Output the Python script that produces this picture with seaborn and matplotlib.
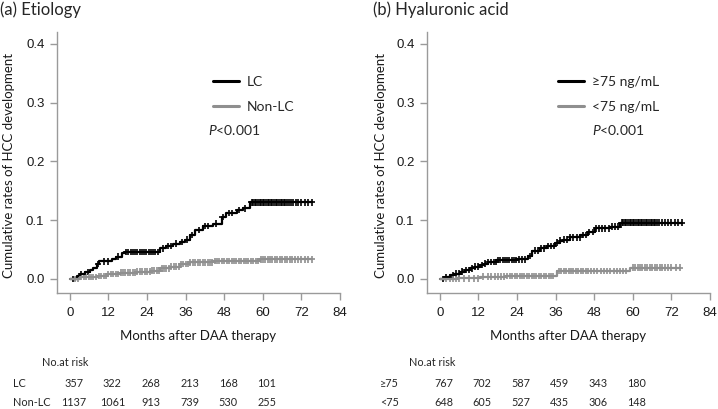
import matplotlib
matplotlib.use("Agg")
import matplotlib.pyplot as plt
from matplotlib.lines import Line2D
import numpy as np
import pandas as pd
import seaborn as sns

# (a) Etiology: step curves (months, cumulative rate)
lc_t = [0, 2.1, 3.1, 4.7, 6.2, 7.3, 8.3, 9.1, 13.0, 14.5, 16.1, 17.1, 28.0, 30.0, 32.1,
        34.2, 35.8, 37.3, 38.9, 41.5, 44.6, 47.2, 48.7, 51.9, 53.9, 56.0, 75.2]
lc_v = [0, 0.005, 0.0085, 0.012, 0.015, 0.019, 0.025, 0.030, 0.033, 0.038, 0.0435, 0.0457,
        0.052, 0.056, 0.060, 0.063, 0.067, 0.0745, 0.083, 0.090, 0.094, 0.1056, 0.1124,
        0.117, 0.120, 0.130, 0.130]
nlc_t = [0, 3.1, 8.8, 11.4, 15.6, 20.7, 24.9, 28.0, 31.1, 34.2, 37.3, 44.6, 59.1, 75.2]
nlc_v = [0, 0.003, 0.005, 0.0085, 0.0107, 0.0124, 0.014, 0.018, 0.021, 0.025, 0.028,
         0.0305, 0.033, 0.033]

lc_cens = [1, 3.5, 5.5, 8.8, 10.5, 12, 15, 17.5, 18.2, 18.9, 19.6, 20.3, 21, 21.7, 22.4,
           23.1, 23.8, 24.5, 25.2, 25.9, 26.6, 27.3, 29, 30.5, 31.5, 33, 34.8, 36.5, 38,
           40, 42, 43, 45.5, 47.5, 49.5, 50.5, 52.5, 54.5, 56.5, 57, 57.5, 58, 58.5, 59,
           59.5, 60, 60.5, 61, 61.5, 62, 62.5, 63, 63.5, 64, 64.5, 65, 65.5, 66, 66.5, 67,
           67.5, 68, 68.7, 69.4, 70.2, 71, 72, 73, 74, 75.2]
nlc_cens = [1.5, 2.5, 3.5, 4.3, 5, 5.8, 6.5, 7.3, 8, 9, 9.8, 10.5, 11.3, 12, 12.8, 13.5,
            14.3, 15, 15.8, 16.5, 17.3, 18, 18.8, 19.5, 20.3, 21, 21.8, 22.5, 23.3, 24,
            24.8, 25.5, 26.3, 27, 27.8, 28.5, 29.3, 30, 30.8, 31.5, 32.3, 33, 33.8, 34.5,
            35.3, 36, 36.8, 37.5, 38.3, 39, 39.8, 40.5, 41.3, 42, 42.8, 43.5, 44.3, 45,
            45.8, 46.5, 47.3, 48, 48.8, 49.5, 50.3, 51, 51.8, 52.5, 53.3, 54, 54.8, 55.5,
            56.3, 57, 57.8, 58.5, 59.3, 60, 60.8, 61.5, 62.3, 63, 63.8, 64.5, 65.3, 66,
            66.8, 67.5, 68.3, 69, 70, 71, 72, 73, 74, 75.2]

# (b) Hyaluronic acid
hh_t = [0, 1.5, 3.1, 4.5, 6.2, 7.8, 9.3, 11.0, 12.4, 13.8, 15.0, 17.6, 24.0, 27.5, 28.5,
        31.1, 33.2, 35.8, 37.3, 38.4, 40.5, 43.6, 46.1, 48.2, 52.9, 56.0, 75.2]
hh_v = [0, 0.003, 0.0068, 0.009, 0.0124, 0.015, 0.018, 0.021, 0.0237, 0.026, 0.029, 0.032,
        0.033, 0.039, 0.048, 0.052, 0.056, 0.0615, 0.065, 0.067, 0.0707, 0.0746, 0.080,
        0.086, 0.0887, 0.0955, 0.0955]
hl_t = [0, 5.2, 12.4, 20.7, 36.3, 59.1, 74.7]
hl_v = [0, 0.001, 0.004, 0.005, 0.0136, 0.019, 0.019]

hh_cens = [1, 2, 3, 4, 5, 6, 7, 8, 9, 10, 11, 12, 13, 14, 15, 16, 16.7, 17.4, 18.1, 18.8,
           19.5, 20.2, 20.9, 21.6, 22.3, 23, 23.7, 24.5, 25.5, 26.5, 28, 29.5, 30.5, 31.5,
           32.5, 33.5, 34.5, 35.5, 36.5, 37.5, 38.5, 39.5, 40.5, 41.5, 42.5, 43.5, 44.5,
           45.5, 46.5, 47.5, 48.5, 49.5, 50.5, 51.5, 52.5, 53.5, 54.5, 55.5, 56.5, 57,
           57.5, 58, 58.5, 59, 59.5, 60, 60.5, 61, 61.5, 62, 62.5, 63, 63.5, 64, 64.5, 65,
           65.5, 66, 66.5, 67, 67.5, 68.2, 69, 70, 71, 72, 73, 74, 75.2]
hl_cens = [2, 3, 4, 5, 6, 7.5, 9, 10.5, 12, 13.5, 15, 16, 17, 18, 19, 20, 21, 21.8, 22.5,
           23.3, 24, 24.8, 25.5, 26.3, 27, 27.8, 28.5, 29.3, 30, 30.8, 31.5, 32.3, 33,
           33.8, 34.5, 35.3, 37, 37.8, 38.5, 39.3, 40, 40.8, 41.5, 42.3, 43, 43.8, 44.5,
           45.3, 46, 47, 48, 49, 50, 51, 52, 53, 54, 55, 56, 57, 58, 60, 60.8, 61.5, 62.3,
           63, 63.8, 64.5, 65.3, 66, 66.8, 67.5, 68.3, 69, 70, 71, 72, 73.5, 74.7]

# number at risk
risk_months = [0, 12, 24, 36, 48, 60]
lc_risk = [357, 322, 268, 213, 168, 101]
nlc_risk = [1137, 1061, 913, 739, 530, 255]
hh_risk = [767, 702, 587, 459, 343, 180]
hl_risk = [648, 605, 527, 435, 306, 148]

BLACK = "#000000"
GRAY = "#8f8f8f"
SPINE = "#9a9a9a"
TEXT_FONT = ["Lato", "DejaVu Sans"]
TICK_FONT = ["Liberation Sans", "DejaVu Sans"]

sns.set_style("ticks")
plt.rcParams["font.family"] = TEXT_FONT
plt.rcParams["mathtext.fontset"] = "custom"
plt.rcParams["mathtext.it"] = "Lato:italic"
plt.rcParams["mathtext.rm"] = "Lato"


def step_value(t, v, c):
    idx = np.searchsorted(t, c, side="right") - 1
    return np.asarray(v)[idx]


def draw_panel(ax, curves, labels, risks, risk_labels, title, title_x, label_x,
               leg_x, p_x, ylabel_x):
    frames = []
    cens = []
    for (t, v, c), lab in zip(curves, labels):
        frames.append(pd.DataFrame({"month": t, "rate": v, "group": lab}))
        cens.append(pd.DataFrame({"month": c, "rate": step_value(t, v, c), "group": lab}))
    df = pd.concat(frames, ignore_index=True)
    dc = pd.concat(cens, ignore_index=True)
    pal = {labels[0]: BLACK, labels[1]: GRAY}
    sns.lineplot(data=df, x="month", y="rate", hue="group", palette=pal, estimator=None,
                 sort=False, drawstyle="steps-post", linewidth=1.6, legend=False, ax=ax)
    sns.scatterplot(data=dc, x="month", y="rate", hue="group", palette=pal, marker="+",
                    s=22, linewidth=1.2, legend=False, ax=ax)

    ax.set_xlim(-4, 84)
    ax.set_ylim(-0.024, 0.42)
    ax.set_xticks([0, 12, 24, 36, 48, 60, 72, 84])
    ax.set_yticks([0.0, 0.1, 0.2, 0.3, 0.4])
    ax.set_yticklabels(["0.0", "0.1", "0.2", "0.3", "0.4"])
    for s in ["top", "right"]:
        ax.spines[s].set_visible(False)
    for s in ["left", "bottom"]:
        ax.spines[s].set_color(SPINE)
        ax.spines[s].set_linewidth(1.0)
    ax.tick_params(colors=SPINE, labelcolor="#1a1a1a", length=5, width=1.0,
                   labelsize=9.5, pad=4)
    ax.tick_params(axis="x", pad=5)
    for lab in ax.get_xticklabels() + ax.get_yticklabels():
        lab.set_family(TICK_FONT)

    ax.set_xlabel("Months after DAA therapy", fontsize=9.5, color="#1a1a1a")
    ax.xaxis.set_label_coords(0.5, -0.165)
    ax.xaxis.label.set_va("center")
    ax.set_ylabel("Cumulative rates of HCC development", fontsize=9.5, color="#1a1a1a")
    ax.yaxis.set_label_coords(ylabel_x, 0.49)
    ax.yaxis.label.set_va("center")

    handles = [Line2D([], [], color=BLACK, lw=2.2), Line2D([], [], color=GRAY, lw=2.2)]
    ax.legend(handles, labels, loc="center left", bbox_to_anchor=(leg_x, 0.762),
              frameon=False, fontsize=10, handlelength=1.9, handletextpad=0.55,
              borderpad=0, borderaxespad=0, labelspacing=0.95)
    ax.text(p_x, 0.625, r"$\mathit{P}$<0.001", transform=ax.transAxes, fontsize=10,
            va="center", ha="left")

    ax.text(title_x, 1.085, title, transform=ax.transAxes, fontsize=12, ha="left",
            va="center")

    trans = ax.get_xaxis_transform()
    ax.text(label_x + 9, -0.268, "No.at risk", transform=trans, fontsize=7.8, ha="left",
            va="center")
    for row_y, vals, rlab in zip([-0.345, -0.421], risks, risk_labels):
        ax.text(label_x, row_y, rlab, transform=trans, fontsize=7.8, ha="left",
                va="center")
        for m, n in zip(risk_months, vals):
            ax.text(m + 1.2, row_y, str(n), transform=trans, fontsize=7.8, ha="center",
                    va="center")


fig = plt.figure(figsize=(7.18, 4.09), dpi=100)
ax1 = fig.add_axes([57 / 718, 116 / 409, 283 / 718, 261 / 409])
ax2 = fig.add_axes([427 / 718, 116 / 409, 283 / 718, 261 / 409])

draw_panel(ax1, [(lc_t, lc_v, lc_cens), (nlc_t, nlc_v, nlc_cens)], ["LC", "Non-LC"],
           [lc_risk, nlc_risk], ["LC", "Non-LC"], "(a) Etiology", -0.2, -17.7,
           0.551, 0.534, -0.171)
draw_panel(ax2, [(hh_t, hh_v, hh_cens), (hl_t, hl_v, hl_cens)], ["≥75 ng/mL", "<75 ng/mL"],
           [hh_risk, hl_risk], ["≥75", "<75"], "(b) Hyaluronic acid", -0.19, -18.7,
           0.463, 0.582, -0.161)

fig.savefig("out.png", dpi=100)
